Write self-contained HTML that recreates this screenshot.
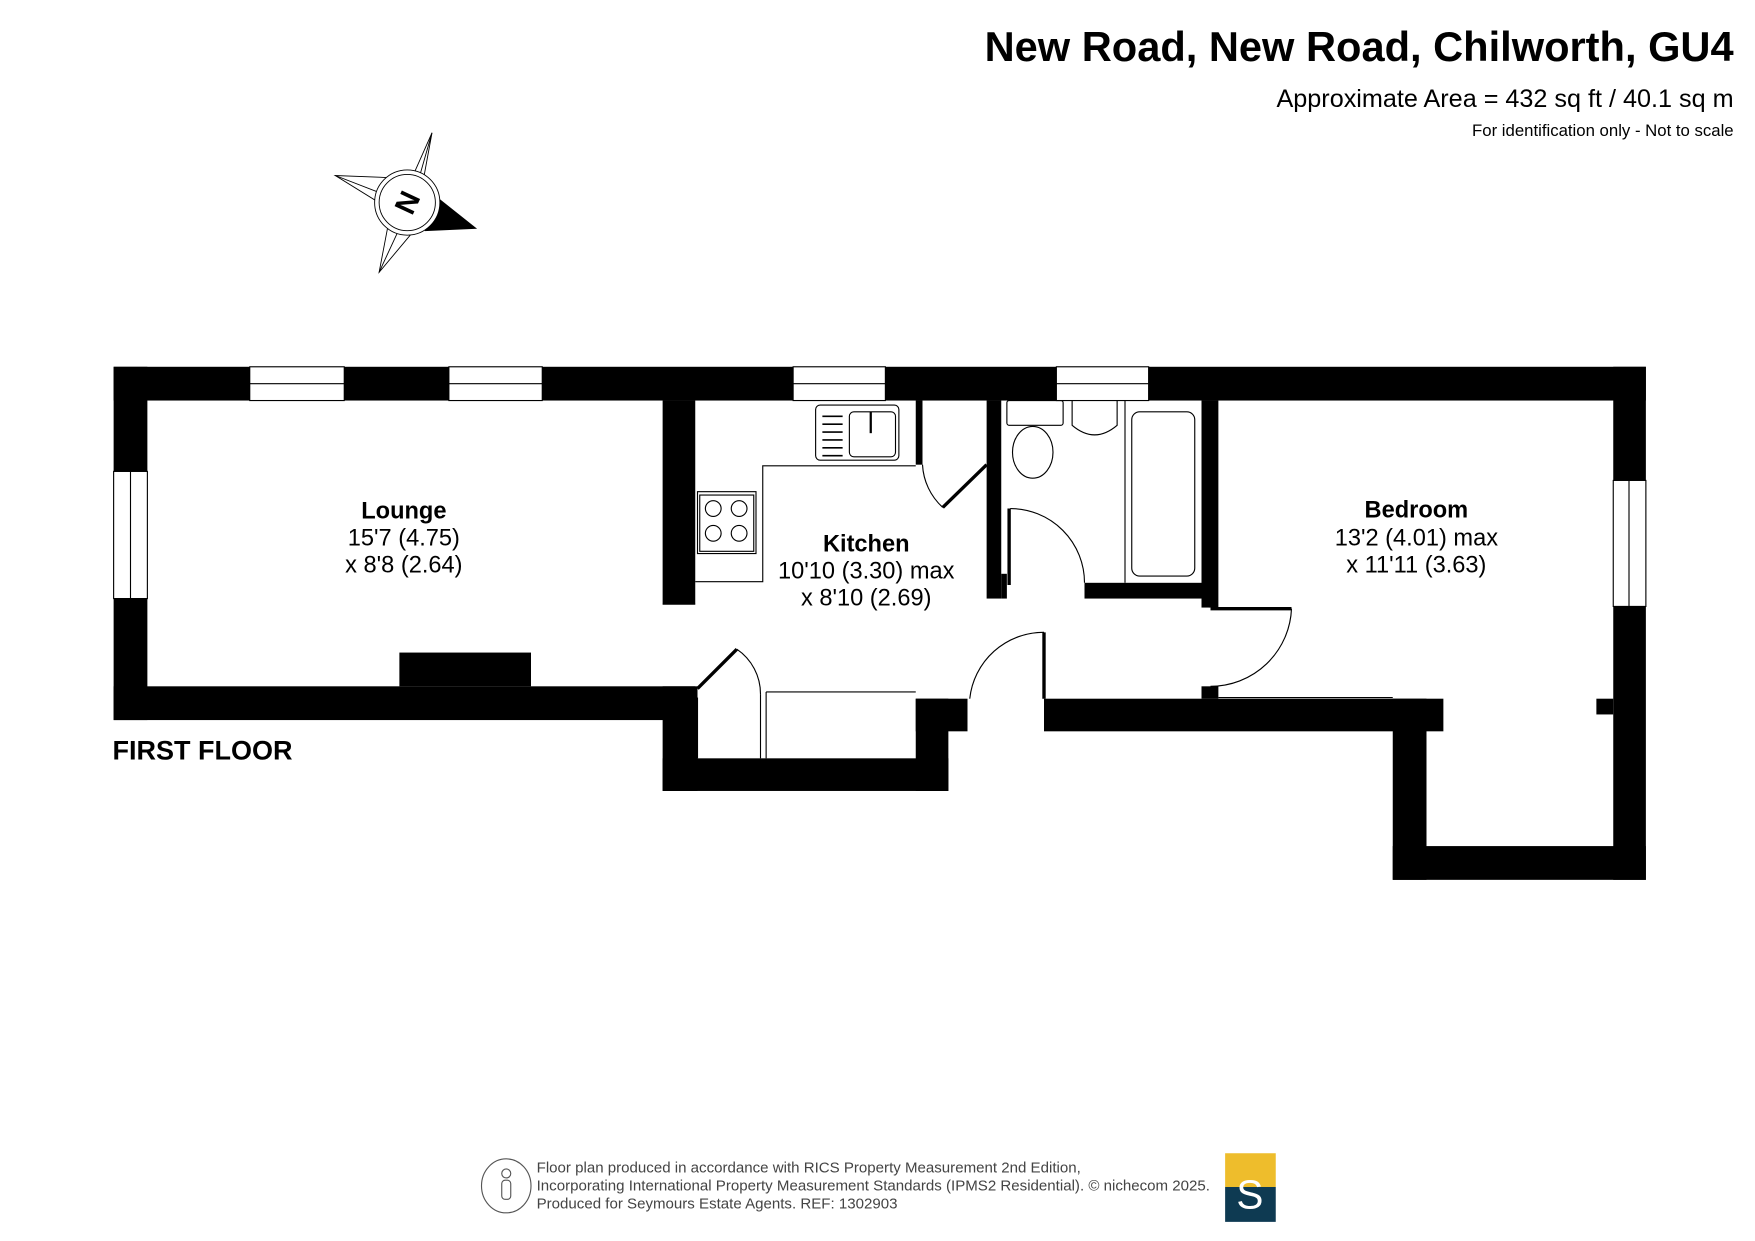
<!DOCTYPE html>
<html><head><meta charset="utf-8"><style>
html,body{margin:0;padding:0;background:#fff}
svg{display:block}
text{font-family:"Liberation Sans",Arial,sans-serif}
</style></head><body>
<svg width="1755" height="1241" viewBox="0 0 1560 1103" preserveAspectRatio="none" xmlns="http://www.w3.org/2000/svg">
<rect width="1560" height="1103" fill="#fff"/>
<text x="1541" y="54" text-anchor="end" font-size="37" font-weight="bold">New Road, New Road, Chilworth, GU4</text>
<text x="1541" y="95" text-anchor="end" font-size="22.4">Approximate Area = 432 sq ft / 40.1 sq m</text>
<text x="1541" y="121" text-anchor="end" font-size="14.9">For identification only - Not to scale</text>

<!-- compass -->
<g stroke="#000" stroke-width="0.8" fill="#fff">
<polygon points="384,118 372,160 350,158 298,156 340,182 345,200 337,242 368,205 384,118"/>
<line x1="384" y1="118" x2="360" y2="172"/>
<line x1="298" y1="156" x2="360" y2="180"/>
<line x1="337" y1="242" x2="362" y2="188"/>
<polygon points="384,172 423,203 378,205" fill="#000"/>
<circle cx="362" cy="180" r="29"/>
<circle cx="362" cy="180" r="25"/>
</g>
<text x="362" y="189" text-anchor="middle" font-size="26" font-weight="bold" transform="rotate(-65 362 180)">N</text>

<!-- walls -->
<g fill="#000">
<rect x="101" y="326" width="1362" height="30"/>
<rect x="101" y="326" width="30" height="314"/>
<rect x="101" y="610" width="517" height="30"/>
<rect x="355" y="580" width="117" height="30"/>
<rect x="589" y="356" width="29" height="181"/>
<rect x="589" y="610" width="31" height="93"/>
<rect x="589" y="674" width="254" height="29"/>
<rect x="814" y="621" width="29" height="82"/>
<rect x="814" y="621" width="46" height="29"/>
<rect x="928" y="621" width="355" height="29"/>
<rect x="1238" y="621" width="30" height="161"/>
<rect x="1238" y="752" width="225" height="30"/>
<rect x="1434" y="326" width="29" height="456"/>
<rect x="1419" y="621" width="15" height="14"/>
<rect x="877" y="356" width="13" height="176"/>
<rect x="890" y="510" width="5" height="22"/>
<rect x="964" y="518" width="110" height="14"/>
<rect x="1068" y="356" width="15" height="184"/>
<rect x="1068" y="610" width="15" height="11"/>
<rect x="814" y="356" width="6" height="57"/>
</g>
<!-- windows -->
<g fill="#fff" stroke="#000" stroke-width="1">
<rect x="222" y="326" width="84" height="30"/><line x1="222" y1="341" x2="306" y2="341"/>
<rect x="399" y="326" width="83" height="30"/><line x1="399" y1="341" x2="482" y2="341"/>
<rect x="705" y="326" width="82" height="30"/><line x1="705" y1="341" x2="787" y2="341"/>
<rect x="939" y="326" width="82" height="30"/><line x1="939" y1="341" x2="1021" y2="341"/>
<rect x="101" y="419" width="30" height="113"/><line x1="116" y1="419" x2="116" y2="532"/>
<rect x="1434" y="427" width="29" height="112"/><line x1="1448" y1="427" x2="1448" y2="539"/>
</g>
<!-- fixtures -->
<g fill="none" stroke="#000" stroke-width="1">
<polyline points="618,517 678,517 678,414 814,414"/>
<rect x="620" y="437" width="52" height="55"/>
<rect x="622" y="440" width="48" height="50"/>
<circle cx="634" cy="452" r="7"/><circle cx="657" cy="452" r="7"/>
<circle cx="634" cy="474" r="7"/><circle cx="657" cy="474" r="7"/>
<rect x="725" y="360" width="74" height="49" rx="4"/>
<rect x="755" y="366" width="41" height="40" rx="4"/>
<line x1="774" y1="366" x2="774" y2="385" stroke-width="2"/>
<g stroke-width="1.5"><line x1="731" y1="370" x2="749" y2="370"/><line x1="731" y1="377" x2="749" y2="377"/><line x1="731" y1="384" x2="749" y2="384"/><line x1="731" y1="391" x2="749" y2="391"/><line x1="731" y1="398" x2="749" y2="398"/><line x1="731" y1="405" x2="749" y2="405"/></g>
<line x1="618" y1="537" x2="589" y2="537"/>
<!-- bathroom -->
<rect x="895" y="356" width="50" height="22" rx="2"/>
<ellipse cx="918" cy="402" rx="18" ry="23"/>
<path d="M953,356 L953,378 Q973,395 993,378 L993,356"/>
<line x1="1000" y1="356" x2="1000" y2="518"/>
<rect x="1006" y="366" width="56" height="146" rx="7"/>
<line x1="1075" y1="532" x2="1075" y2="540"/>
<!-- cupboard -->
<line x1="681" y1="615" x2="681" y2="674"/>
<line x1="681" y1="615" x2="814" y2="615"/>
<line x1="620" y1="620" x2="620" y2="674"/>
<line x1="676" y1="617" x2="676" y2="674"/>
<line x1="1083" y1="620" x2="1238" y2="620"/>
<!-- doors -->
<path d="M820,413 A55,55 0 0 0 838,451"/>
<path d="M898,452 A66,66 0 0 1 964,518"/>
<path d="M928,562 A66,66 0 0 0 862,621"/>
<path d="M1148,541 A72,72 0 0 1 1076,610"/>
<path d="M655,577 A48,48 0 0 1 676,617"/>
</g>
<g stroke="#000" stroke-width="3" fill="none">
<line x1="838" y1="451" x2="877" y2="413"/>
<line x1="897" y1="452" x2="897" y2="520"/>
<line x1="928" y1="562" x2="928" y2="621"/>
<line x1="1076" y1="541" x2="1148" y2="541"/>
<line x1="620" y1="612" x2="655" y2="577"/>
</g>

<!-- labels -->
<g text-anchor="middle" font-size="21">
<text x="359" y="461" font-weight="bold">Lounge</text>
<text x="359" y="485">15'7 (4.75)</text>
<text x="359" y="509">x 8'8 (2.64)</text>
<text x="770" y="490" font-weight="bold">Kitchen</text>
<text x="770" y="514">10'10 (3.30) max</text>
<text x="770" y="538">x 8'10 (2.69)</text>
<text x="1259" y="460" font-weight="bold">Bedroom</text>
<text x="1259" y="485">13'2 (4.01) max</text>
<text x="1259" y="509">x 11'11 (3.63)</text>
</g>
<text x="100" y="675" font-size="24" font-weight="bold">FIRST FLOOR</text>

<!-- footer -->
<g fill="none" stroke="#555" stroke-width="1">
<ellipse cx="450" cy="1054" rx="22" ry="24"/>
<circle cx="450" cy="1043" r="4"/>
<rect x="446" y="1049" width="8" height="17" rx="3"/>
</g>
<g font-size="13.4" fill="#444">
<text x="477" y="1042">Floor plan produced in accordance with RICS Property Measurement 2nd Edition,</text>
<text x="477" y="1058">Incorporating International Property Measurement Standards (IPMS2 Residential).   © nichecom 2025.</text>
<text x="477" y="1074">Produced for Seymours Estate Agents.   REF: 1302903</text>
</g>
<rect x="1089" y="1025" width="45" height="30" fill="#eebd2c"/>
<rect x="1089" y="1055" width="45" height="31" fill="#0e3a52"/>
<text x="1111" y="1074" text-anchor="middle" font-size="36" fill="#fff" font-family="Liberation Serif,serif">S</text>
</svg>
</body></html>
